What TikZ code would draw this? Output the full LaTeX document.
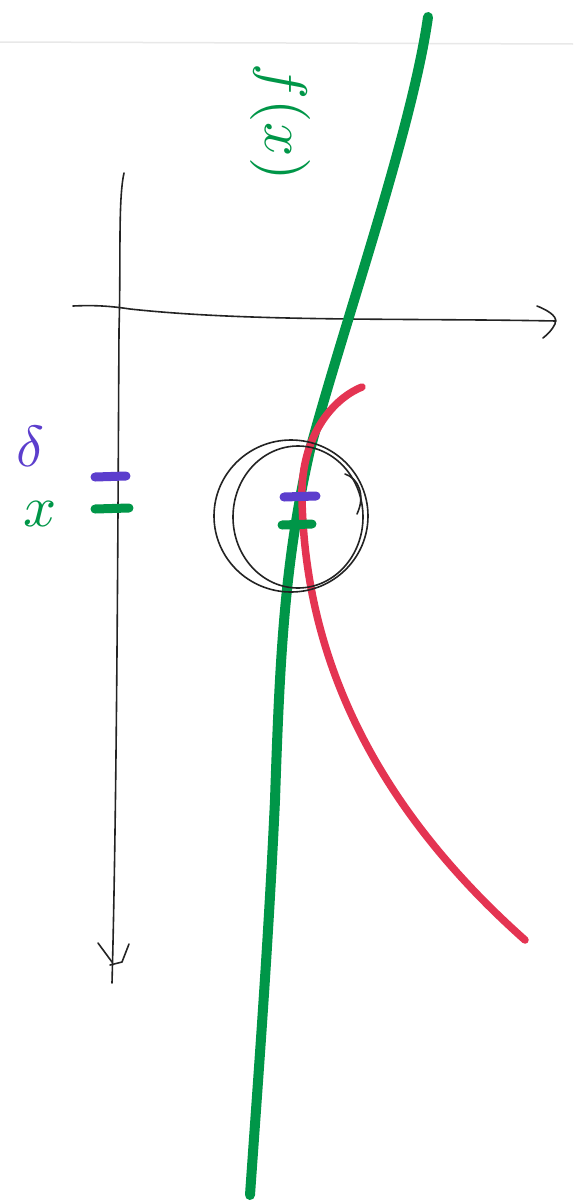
\documentclass[tikz,border=0pt]{standalone}
\usepackage{tikz}
\definecolor{pgreen}{RGB}{0,150,72}
\definecolor{pred}{RGB}{228,52,82}
\definecolor{pblue}{RGB}{92,62,205}
\definecolor{pblack}{RGB}{35,35,35}
\tikzset{
  pen/.style={draw=pblack,line width=1.6pt,line cap=round,line join=round},
  gpen/.style={draw=pgreen,line width=10pt,line cap=round},
  rpen/.style={draw=pred,line width=7.5pt,line cap=round},
  btick/.style={draw=pblue,line width=9pt,line cap=round},
  gtick/.style={draw=pgreen,line width=9pt,line cap=round},
}
\begin{document}
\begin{tikzpicture}[x=1pt,y=-1pt]
\useasboundingbox (0,0) rectangle (573,1202);
\fill[white] (0,0) rectangle (573,1202);
% faint paper edge
\draw[gray!18,line width=1.5pt] (0,42) -- (573,44);
% named points
\coordinate (vtop) at (124,173);
\coordinate (vbot) at (112,983);
\coordinate (hleft) at (73,306);
\coordinate (hright) at (556,321);
% vertical axis
\draw[pen] (vtop) .. controls (118,200) and (121,260) .. (119,330) .. controls (118,500) and (117,800) .. (vbot);
\draw[pen] (98,943) -- (112,962);
\draw[pen] (129,944) -- (122,962) -- (110,965);
% horizontal axis
\draw[pen] (hleft) .. controls (95,305) and (110,306) .. (130,309) .. controls (250,322) and (400,318) .. (hright);
\draw[pen] (537,306) .. controls (552,312) and (558,318) .. (555,324) .. controls (552,330) and (548,334) .. (543,338);
% green curve f(x)
\coordinate (gtop) at (428,17);
\coordinate (gbot) at (250,1195);
\draw[gpen] (gtop) .. controls (412,130) and (345,320) .. (310,450) .. controls (285,560) and (280,650) .. (275,800) .. controls (268,950) and (258,1080) .. (gbot);
% red curve
\coordinate (rtop) at (362,387);
\coordinate (rbot) at (525,940);
\draw[rpen] (rtop) .. controls (330,400) and (300,440) .. (302,500) .. controls (305,620) and (345,780) .. (rbot);
% circles
\draw[pen] (291,516) ellipse [x radius=77,y radius=76];
\draw[pen] (298,517) ellipse [x radius=65,y radius=71];
\draw[pen] (345,474) .. controls (358,478) and (366,495) .. (357,514);
% ticks
\draw[btick] (95,477) -- (126,476);
\draw[gtick] (95,509) -- (129,508);
\draw[btick] (284,497) -- (316,496);
\draw[gtick] (282,525) -- (312,524);
% labels
\node[text=pblue,scale=5.8,inner sep=0pt] (dlab) at (30,446) {$\delta$};
\node[text=pgreen,scale=5.8,inner sep=0pt] (xlab) at (40,514) {$x$};
\node[text=pgreen,rotate=-90,scale=6] (flab) at (280,122) {$f(x)$};
\end{tikzpicture}
\end{document}
